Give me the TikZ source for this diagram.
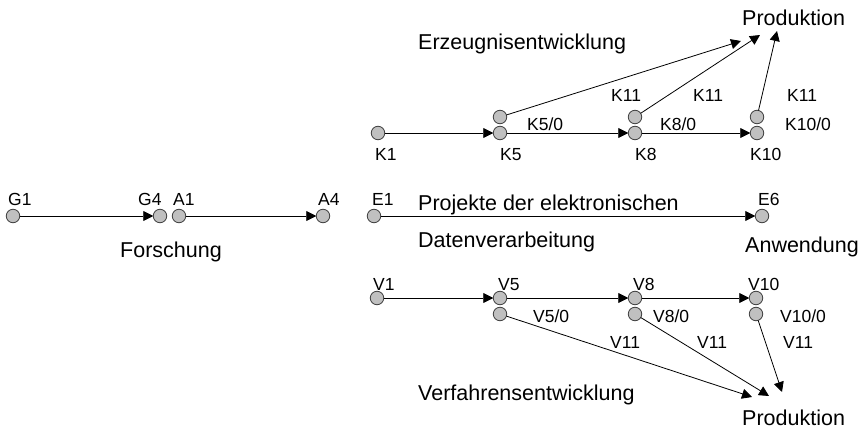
\documentclass[tikz,border=0pt]{standalone}
\usepackage{fontspec}
\setmainfont{Liberation Sans}
\usetikzlibrary{arrows.meta}
\definecolor{ptfill}{HTML}{C0C0C0}
\definecolor{ptdraw}{HTML}{404040}
\begin{document}
\begin{tikzpicture}[x=1pt,y=-1pt,
  pt/.style={circle, fill=ptfill, draw=ptdraw, line width=0.8pt, minimum size=13.5pt, inner sep=0pt, outer sep=0pt},
  lbl/.style={anchor=base west, inner sep=0pt, font=\fontsize{17.5}{20}\selectfont},
  big/.style={anchor=base west, inner sep=0pt, font=\fontsize{21.5}{25}\selectfont},
  arr/.style={-{Triangle[length=10pt,width=10pt]}, line width=0.8pt},
  ln/.style={line width=0.8pt}]
\useasboundingbox (0,0) rectangle (865,428);

% ---- top group: Erzeugnisentwicklung
\node[pt] (K1) at (378,133) {};
\node[pt] (K5) at (500,133) {};
\node[pt] (K5u) at (500,117) {};
\node[pt] (K8) at (635,133) {};
\node[pt] (K8u) at (635,117) {};
\node[pt] (K10) at (757,133) {};
\node[pt] (K10u) at (757,117) {};
\coordinate (P1) at (741,41);
\coordinate (P2) at (760,35);
\coordinate (P3) at (777,31);

\draw[arr] (K1) -- (K5);
\draw[arr] (K5) -- (K8);
\draw[arr] (K8) -- (K10);
\draw[arr] (K5u) -- (P1);
\draw[arr] (K8u) -- (P2);
\draw[arr] (K10u) -- (P3);

\node[big] (tErz) at (418,50) {Erzeugnisentwicklung};
\node[big] (tProd1) at (742,26) {Produktion};
\node[lbl] (lK11a) at (611,102) {K11};
\node[lbl] (lK11b) at (693,102) {K11};
\node[lbl] (lK11c) at (787,101) {K11};
\node[lbl] (lK50) at (527,130) {K5/0};
\node[lbl] (lK80) at (660,130) {K8/0};
\node[lbl] (lK100) at (785,130) {K10/0};
\node[lbl] (lK1) at (375,160) {K1};
\node[lbl] (lK5) at (500,160) {K5};
\node[lbl] (lK8) at (635,160) {K8};
\node[lbl] (lK10) at (750,160) {K10};

% ---- middle row
\node[pt] (G1) at (13,216) {};
\node[pt] (G4) at (160,216) {};
\node[pt] (A1) at (179,216) {};
\node[pt] (A4) at (323,216) {};
\node[pt] (E1) at (374,216) {};
\node[pt] (E6) at (762,216) {};
\draw[arr] (G1) -- (G4);
\draw[arr] (A1) -- (A4);
\draw[arr] (E1) -- (E6);

\node[lbl] (lG1) at (8,205) {G1};
\node[lbl] (lG4) at (138,205) {G4};
\node[lbl] (lA1) at (173,205) {A1};
\node[lbl] (lA4) at (318,205) {A4};
\node[lbl] (lE1) at (372,205) {E1};
\node[lbl] (lE6) at (758,205) {E6};
\node[big] (tFor) at (120,257) {Forschung};
\node[big] (tPro) at (418,210) {Projekte der elektronischen};
\node[big] (tDat) at (418,247) {Datenverarbeitung};
\node[big] (tAnw) at (745,252) {Anwendung};

% ---- bottom group: Verfahrensentwicklung
\node[pt] (V1) at (377,298) {};
\node[pt] (V5) at (500,298) {};
\node[pt] (V5d) at (500,314) {};
\node[pt] (V8) at (635,298) {};
\node[pt] (V8d) at (635,314) {};
\node[pt] (V10) at (756,298) {};
\node[pt] (V10d) at (756,314) {};
\coordinate (Q1) at (752,397);
\coordinate (Q2) at (769,396);
\coordinate (Q3) at (782,392);

\draw[arr] (V1) -- (V5);
\draw[arr] (V5) -- (V8);
\draw[arr] (V8) -- (V10);
\draw[arr] (V5d) -- (Q1);
\draw[arr] (V8d) -- (Q2);
\draw[arr] (V10d) -- (Q3);

\node[lbl] (lV1) at (373,290) {V1};
\node[lbl] (lV5) at (498,290) {V5};
\node[lbl] (lV8) at (633,290) {V8};
\node[lbl] (lV10) at (748,290) {V10};
\node[lbl] (lV50) at (533,322) {V5/0};
\node[lbl] (lV80) at (653,322) {V8/0};
\node[lbl] (lV100) at (780,322) {V10/0};
\node[lbl] (lV11a) at (610,348) {V11};
\node[lbl] (lV11b) at (697,348) {V11};
\node[lbl] (lV11c) at (783,348) {V11};
\node[big] (tVer) at (418,400) {Verfahrensentwicklung};
\node[big] (tProd2) at (742,425) {Produktion};
\end{tikzpicture}
\end{document}
